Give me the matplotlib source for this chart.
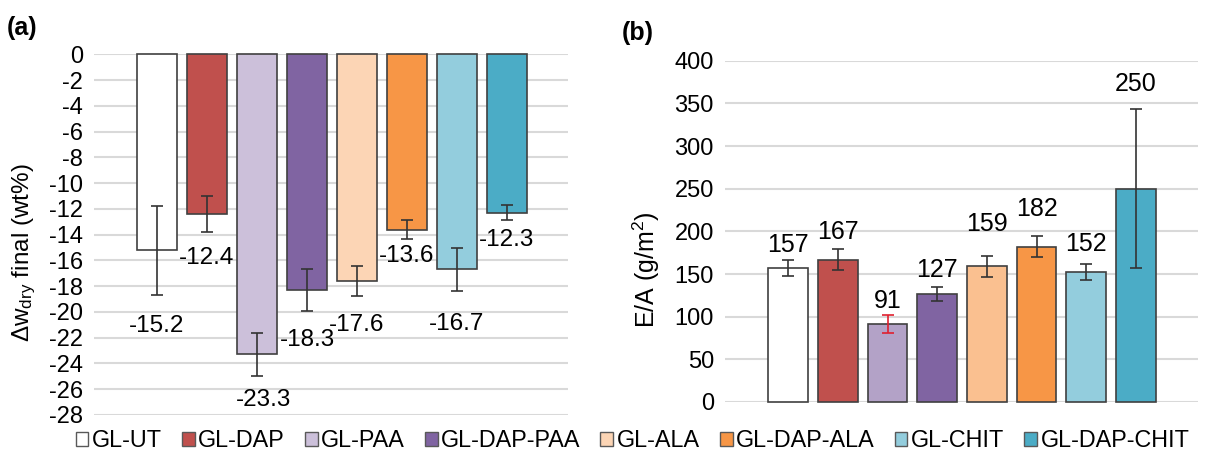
import numpy as np
import matplotlib.pyplot as plt
from matplotlib.patches import Patch

plt.rcParams['font.family'] = ['Liberation Sans', 'DejaVu Sans']
plt.rcParams['mathtext.default'] = 'regular'
plt.rcParams['axes.unicode_minus'] = False

samples = ['GL-UT', 'GL-DAP', 'GL-PAA', 'GL-DAP-PAA',
           'GL-ALA', 'GL-DAP-ALA', 'GL-CHIT', 'GL-DAP-CHIT']

# (a) final change of dry weight (wt%)
dw_final = [-15.2, -12.4, -23.3, -18.3, -17.6, -13.6, -16.7, -12.3]
dw_err = [3.45, 1.4, 1.7, 1.65, 1.15, 0.72, 1.7, 0.57]

# (b) E/A (g/m2)
ea = [157, 167, 91, 127, 159, 182, 152, 250]
ea_err = [9, 12.7, 10.6, 8.2, 12.6, 12, 9.5, 93]

yticks_a = np.arange(-28, 1, 2)
yticks_b = np.arange(0, 401, 50)

# colours
colors_a = ['#ffffff', '#c0504d', '#ccc0da', '#8064a2',
            '#fcd5b5', '#f79646', '#93cddd', '#4bacc6']
colors_b = ['#ffffff', '#c0504d', '#b3a2c7', '#8064a2',
            '#fac090', '#f79646', '#93cddd', '#4bacc6']
err_colors_b = ['#333333', '#333333', '#e0202f', '#333333',
                '#333333', '#333333', '#333333', '#333333']

# where the value labels sit relative to the error bars
lab_off_a = [2.45, 2.0, 1.85, 2.2, 2.3, 1.3, 2.5, 1.55]
lab_dx_a = [0, 0, 0.14, 0, 0, 0, 0, 0]
lab_off_b = [18, 20, 17, 20, 37, 32, 24, 30]

edge = '#404040'
x = np.arange(len(samples))

fig = plt.figure(figsize=(12.07, 4.53), dpi=100)

# ---------- (a) ----------
ax1 = fig.add_axes([0.0779, 0.0839, 0.3927, 0.7962])
ax1.bar(x, dw_final, width=0.8, color=colors_a, edgecolor=edge, linewidth=1.2,
        clip_on=False, zorder=2)
ax1.errorbar(x, dw_final, yerr=dw_err, fmt='none', ecolor='#333333',
             elinewidth=1.2, capsize=4.5, capthick=1.2, zorder=3, clip_on=False)
for i, v in enumerate(dw_final):
    ax1.text(x[i] + lab_dx_a[i], v - dw_err[i] - lab_off_a[i], f'{v:.1f}',
             ha='center', va='center', fontsize=17.5)
ax1.set_ylim(-28, 0)
ax1.set_xlim(-1.26, 8.22)
ax1.set_yticks(yticks_a)
ax1.set_yticklabels([str(t) for t in yticks_a])
ax1.set_ylabel('Δw$_{dry}$ final (wt%)', fontsize=17.5)
ax1.yaxis.set_label_coords(-0.118, 0.45)

# ---------- (b) ----------
ax2 = fig.add_axes([0.6007, 0.1126, 0.3919, 0.7534])
ax2.bar(x, ea, width=0.8, color=colors_b, edgecolor=edge, linewidth=1.2,
        clip_on=False, zorder=2)
for i, v in enumerate(ea):
    ax2.errorbar(x[i], v, yerr=ea_err[i], fmt='none', ecolor=err_colors_b[i],
                 elinewidth=1.2, capsize=4.5, capthick=1.2, zorder=3)
    ax2.text(x[i], v + ea_err[i] + lab_off_b[i], str(v),
             ha='center', va='center', fontsize=18)
ax2.set_ylim(0, 400)
ax2.set_xlim(-1.27, 8.25)
ax2.set_yticks(yticks_b)
ax2.set_ylabel('E/A (g/m$^2$)', fontsize=18)
ax2.yaxis.set_label_coords(-0.133, 0.387)

for ax in (ax1, ax2):
    for s in ax.spines.values():
        s.set_visible(False)
    ax.set_xticks([])
    ax.grid(axis='y', color='#d9d9d9', linewidth=1.5)
    ax.set_axisbelow(True)
    ax.tick_params(axis='y', length=0, pad=8, labelsize=17)

fig.text(7 / 1207, 1 - 28 / 453, '(a)', fontsize=18, fontweight='bold', va='center')
fig.text(622 / 1207, 1 - 33 / 453, '(b)', fontsize=18, fontweight='bold', va='center')

handles = [Patch(facecolor=c, edgecolor='#595959', linewidth=1) for c in colors_a]
fig.legend(handles, samples, loc='center', bbox_to_anchor=(0.524, 0.027), ncol=8,
           frameon=False, handlelength=0.55, handleheight=0.55, handletextpad=0.15,
           columnspacing=0.85, fontsize=16.8, borderaxespad=0, borderpad=0)

fig.savefig('out.png', dpi=100)
